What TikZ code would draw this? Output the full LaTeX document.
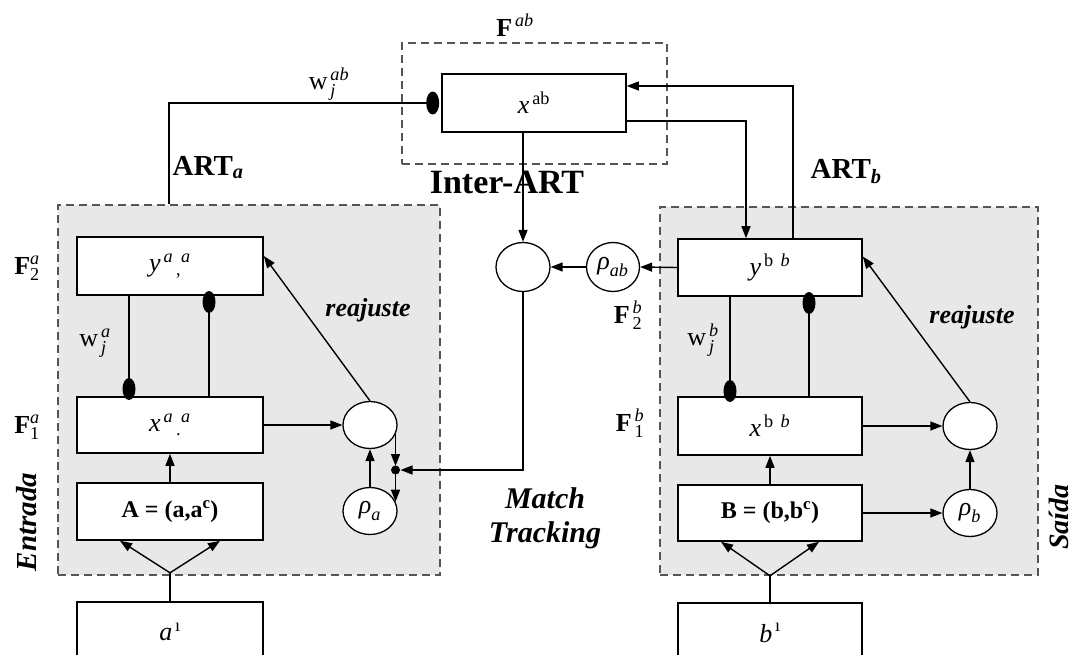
\documentclass[tikz,border=0pt]{standalone}
\usepackage{amsmath}
\usepackage{fontspec}
\setmainfont{Liberation Serif}
\usetikzlibrary{arrows.meta,shapes.geometric,positioning}
\definecolor{artgray}{HTML}{E8E8E8}
\definecolor{dashgray}{HTML}{555555}

\begin{document}
\begin{tikzpicture}[
  x=1pt, y=-1pt,
  >={Triangle[length=12pt,width=9pt]},
  font=\fontsize{26}{30}\selectfont,
  line width=1.4pt,
  layerbox/.style={draw,line width=1.6pt,fill=white,inner sep=0pt},
  artbox/.style={draw=dashgray,dash pattern=on 8pt off 5pt,line width=2pt,fill=artgray,inner sep=0pt},
  mapbox/.style={draw=dashgray,dash pattern=on 8pt off 5pt,line width=2pt,inner sep=0pt},
  ovalnode/.style={draw,ellipse,fill=white,inner sep=0pt,minimum width=54pt,minimum height=47pt,line width=1.3pt},
  lbl/.style={inner sep=0pt},
  titlelbl/.style={font=\fontsize{29}{32}\selectfont\bfseries,inner sep=0pt},
  sidelbl/.style={font=\fontsize{29}{32}\selectfont\bfseries\itshape,rotate=90,inner sep=0pt},
  resetlbl/.style={font=\fontsize{26}{28}\selectfont\bfseries\itshape,inner sep=0pt}
]
\useasboundingbox[fill=white] (0,0) rectangle (1074,654);

% ---- grey blocks ----
\node[artbox,minimum width=382,minimum height=370] (artA) at (249,390) {};
\node[artbox,minimum width=378,minimum height=368] (artB) at (849,391) {};

% ---- map field F^ab ----
\node[mapbox,minimum width=265,minimum height=121] (fab) at (534.5,103.5) {};
\node[layerbox,minimum width=184,minimum height=58] (xab) at (534,103) {$\textit{x}^{\,\text{ab}}$\hspace{30pt}};
\node[lbl] (fablbl) at (515,25) {$\textbf{F}^{\,\textit{ab}}$};
\node[lbl] (wablbl) at (329,84) {$\text{w}^{\,\textit{ab}}_{\,\textit{j}}$};

% ---- ART a ----
\node[layerbox,minimum width=186,minimum height=58] (ya) at (170,266) {$\textit{y}^{\,\textit{a}}{}_{\,\text{,}}{}^{\textit{a}}$\hspace{20pt}};
\node[layerbox,minimum width=186,minimum height=56] (xa) at (170,425) {$\textit{x}^{\,\textit{a}}{}_{\,\text{.}}{}^{\textit{a}}$\hspace{20pt}};
\node[layerbox,minimum width=186,minimum height=57,font=\fontsize{24}{28}\selectfont] (ccA) at (170,511.5) {\textbf{A = (a,a\textsuperscript{c})}};
\node[layerbox,minimum width=186,minimum height=60] (inA) at (170,632) {$\textit{a}^{\,\text{ı}}$\hspace{14pt}};
\node[ovalnode] (resetA) at (370,425) {};
\node[ovalnode] (rhoA) at (370,511) {$\textit{ρ}_{\textit{a}}$};

\node[lbl] (f2a) at (27,268) {$\textbf{F}^{\textit{a}}_{\text{2}}$};
\node[lbl] (f1a) at (27,427) {$\textbf{F}^{\textit{a}}_{\text{1}}$};
\node[lbl] (wja) at (95,343) {$\text{w}^{\,\textit{a}}_{\,\textit{j}}$};
\node[resetlbl] (rsA) at (368,310) {reajuste};
\node[titlelbl,anchor=base west] (artAlbl) at (172,175) {ART$_{\textbf{\textit{a}}}$};
\node[sidelbl] (inlbl) at (27,522) {Entrada};

% ---- ART b ----
\node[layerbox,minimum width=184,minimum height=57] (yb) at (770,267.5) {$\textit{y}^{\,\text{b}}\;{}^{\textit{b}}$\hspace{16pt}};
\node[layerbox,minimum width=184,minimum height=58] (xb) at (770,426) {$\textit{x}^{\,\text{b}}\;{}^{\textit{b}}$\hspace{16pt}};
\node[layerbox,minimum width=184,minimum height=56,font=\fontsize{24}{28}\selectfont] (ccB) at (770,513) {\textbf{B = (b,b\textsuperscript{c})}};
\node[layerbox,minimum width=184,minimum height=60] (inB) at (770,633) {$\textit{b}^{\,\text{ı}}$\hspace{8pt}};
\node[ovalnode] (resetB) at (970,426) {};
\node[ovalnode] (rhoB) at (970,513) {$\textit{ρ}_{\textit{b}}$};

\node[lbl] (f2b) at (628,315) {$\textbf{F}^{\,\textit{b}}_{\,\text{2}}$};
\node[lbl] (f1b) at (630,423) {$\textbf{F}^{\,\textit{b}}_{\,\text{1}}$};
\node[lbl] (wjb) at (703,340) {$\text{w}^{\,\textit{b}}_{\,\textit{j}}$};
\node[resetlbl] (rsB) at (972,317) {reajuste};
\node[titlelbl,anchor=base west] (artBlbl) at (810,178) {ART$_{\textbf{\textit{b}}}$};
\node[sidelbl,font=\fontsize{28}{30}\selectfont\bfseries\itshape] (outlbl) at (1059,517) {Saída};

% ---- inter-ART ----
\node[ovalnode,minimum height=49pt] (interC) at (523,267) {};
\node[ovalnode,minimum width=53pt,minimum height=49pt] (rhoAB) at (613,267) {$\textit{ρ}_{\textit{ab}}$};
\node[lbl,font=\fontsize{34}{36}\selectfont\bfseries,anchor=base] (interlbl) at (507,193) {Inter-ART};
\node[lbl,align=center,font=\fontsize{30}{34}\selectfont\bfseries\itshape] (mtlbl) at (545,518) {Match\\Tracking};

% ---- F1 / F2 weights ----
\coordinate (wA) at (129,389);
\coordinate (tA) at (209,302);
\draw (ya.south -| wA) -- (xa.north -| wA);
\draw (xa.north -| tA) -- (ya.south -| tA);
\fill (wA) ellipse (6.5 and 11);
\fill (tA) ellipse (6.5 and 11);

\coordinate (wB) at (730,391);
\coordinate (tB) at (809,303);
\draw (yb.south -| wB) -- (xb.north -| wB);
\draw (xb.north -| tB) -- (yb.south -| tB);
\fill (wB) ellipse (6.5 and 11);
\fill (tB) ellipse (6.5 and 11);

% ---- inputs ----
\coordinate (forkA) at ([yshift=-32]ccA.south);
\draw (inA.north) -- (forkA);
\draw[->] (forkA) -- ([xshift=-50]ccA.south);
\draw[->] (forkA) -- ([xshift=50]ccA.south);
\draw[->] (ccA.north) -- (xa.south);

\coordinate (forkB) at ([yshift=-34]ccB.south);
\draw (inB.north) -- (forkB);
\draw[->] (forkB) -- ([xshift=-49]ccB.south);
\draw[->] (forkB) -- ([xshift=49]ccB.south);
\draw[->] (ccB.north) -- (xb.south);

% ---- reset loops ----
\draw[->] (xa.east) -- (resetA.west);
\draw[->] (resetA.north) -- ([yshift=10]ya.east);
\draw[->] (rhoA.north) -- (resetA.south);

\draw[->] (xb.east) -- (resetB.west);
\draw[->] (resetB.north) -- ([yshift=11]yb.east);
\draw[->] (ccB.east) -- (rhoB.west);
\draw[->] (rhoB.north) -- (resetB.south);

% ---- match tracking ----
\coordinate (mtdot) at (resetA.-20 |- 0,470);
\draw[->] (resetA.-20) -- ([yshift=4]mtdot);
\draw[->] (mtdot) -- (rhoA.20);
\draw[->] (interC.south) |- ([xshift=5]mtdot);
\fill (mtdot) circle (4.5);

% ---- map field links ----
\coordinate (wAB) at ([xshift=-8.5]xab.west);
\draw ([xshift=112]artA.north west) |- (wAB);
\fill (wAB) ellipse (6.5 and 11.5);
\draw[->] (interC.north |- xab.south) -- (interC.north);
\draw[->] ([yshift=-18]xab.east) -| ([xshift=-24]yb.north);
\draw[->] ([xshift=23]yb.north) |- ([yshift=17]xab.east);
\draw[->] (yb.west) -- (rhoAB.east);
\draw[->] (rhoAB.west) -- (interC.east);

\end{tikzpicture}
\end{document}
